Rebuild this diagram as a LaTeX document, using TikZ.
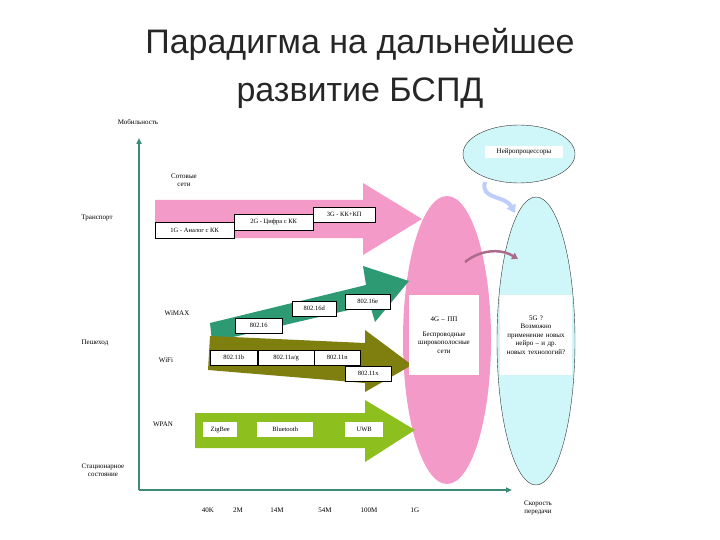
\documentclass[tikz,border=0pt]{standalone}
\usepackage{fontspec}
\setmainfont{Liberation Serif}
\newfontfamily\titlefont{Liberation Sans}
\usetikzlibrary{arrows.meta,shapes.geometric}
\definecolor{pinkc}{HTML}{F49AC8}
\definecolor{tealc}{HTML}{2E9A74}
\definecolor{olivec}{HTML}{7F7F10}
\definecolor{limec}{HTML}{8DBF1E}
\definecolor{cyanc}{HTML}{CFF6F8}
\definecolor{axisc}{HTML}{3E8A78}
\begin{document}
\begin{tikzpicture}[x=1pt,y=-1pt,
 lbl/.style={font=\fontsize{7}{8}\selectfont,align=center,inner sep=1pt},
 tag/.style={draw=black,fill=white,font=\fontsize{6.5}{7}\selectfont,inner sep=1pt,anchor=north west},
 wbox/.style={fill=white,font=\fontsize{7}{8.5}\selectfont,align=center}]
\useasboundingbox (0,0) rectangle (720,540);
\node[font=\titlefont\fontsize{34}{48}\selectfont,align=center,text=black!85] (title) at (360,68) {Парадигма на дальнейшее\\развитие БСПД};
% axes
\coordinate (o) at (139,490);
\coordinate (ytop) at (139,138);
\coordinate (xend) at (512,490);
\draw[axisc,line width=1.5pt,-{Triangle[length=6pt,width=5pt]}] (o) -- (ytop);
\draw[axisc,line width=1.5pt,-{Triangle[length=6pt,width=5pt]}] (o) -- (xend);
\node[lbl] (mob) at (138,122) {Мобильность};
\node[lbl] (tr) at (97,218) {Транспорт};
\node[lbl] (ped) at (95,343) {Пешеход};
\node[lbl] (stat) at (103,470) {Стационарное\\состояние};
\node[lbl] (speed) at (538,508) {Скорость\\передачи};
\foreach \t/\x in {40K/208,2M/238,14M/277,54M/325,100M/369,1G/415}
  \node[lbl] (t\t) at (\x,510) {\t};
% ellipses
\fill[pinkc] (447,340) ellipse [x radius=44,y radius=144];
\draw[black!80,fill=cyanc,thin] (536,341) ellipse [x radius=39,y radius=144];
% pink arrow
\fill[pinkc] (155,200) -- (363,200) -- (363,183) -- (422,219) -- (363,255) -- (363,238) -- (155,238) -- cycle;
\node[lbl] (cell) at (184,180) {Сотовые\\сети};
\node[tag,minimum width=79pt,minimum height=16pt] (g1) at (155,222) {1G - Аналог с КК};
\node[tag,minimum width=79pt,minimum height=16pt] (g2) at (234,214) {2G - Цифра с КК};
\node[tag,minimum width=62pt,minimum height=15pt] (g3) at (313,207) {3G - КК+КП};
% teal arrow
\fill[tealc] (210,323) -- (366,285) -- (363,266) -- (409,281) -- (375,322) -- (370,305) -- (212,342) -- cycle;
% olive arrow
\fill[olivec] (210,336) -- (365,343) -- (365,330) -- (412,365) -- (365,392) -- (365,383) -- (208,370) -- cycle;
\node[tag,minimum width=47pt,minimum height=15pt] (w1) at (235,318) {802.16};
\node[tag,minimum width=44pt,minimum height=15pt] (w2) at (292,301) {802.16d};
\node[tag,minimum width=45pt,minimum height=15pt] (w3) at (345,294) {802.16e};
\node[tag,minimum width=47pt,minimum height=15pt] (f1) at (210,350) {802.11b};
\node[tag,minimum width=56pt,minimum height=15pt] (f2) at (258,350) {802.11a/g};
\node[tag,minimum width=46pt,minimum height=15pt] (f3) at (314,350) {802.11n};
\node[tag,minimum width=46pt,minimum height=15pt] (f4) at (345,366) {802.11x};
\node[lbl] (wimax) at (177,313) {WiMAX};
\node[lbl] (wifi) at (166,360) {WiFi};
% lime arrow
\fill[limec] (195,413) -- (365,413) -- (365,400) -- (415,430) -- (365,462) -- (365,448) -- (195,448) -- cycle;
\node[tag,draw=none,minimum width=34pt,minimum height=15pt] (z1) at (203,422) {ZigBee};
\node[tag,draw=none,minimum width=56pt,minimum height=15pt] (z2) at (257,422) {Bluetooth};
\node[tag,draw=none,minimum width=38pt,minimum height=15pt] (z3) at (345,422) {UWB};
\node[lbl] (wpan) at (163,424) {WPAN};
% text boxes in ellipses
\node[wbox,minimum width=68pt,minimum height=80pt,text width=64pt] (g4) at (444,335) {4G – ПП\\[6pt]Беспроводные широкополосные сети};
\node[wbox,minimum width=72pt,minimum height=80pt,text width=66pt] (g5) at (536,335) {5G ?\\Возможно применение новых нейро – и др. новых технологий?};
% top ellipse
\node[draw=black!80,fill=cyanc,ellipse,minimum width=112pt,minimum height=58pt] (neuro) at (519,154) {};
\node[fill=white,font=\fontsize{7}{8}\selectfont,minimum width=78pt] (neurot) at (524,152) {Нейропроцессоры};
% curved arrows
\coordinate (c1) at (485,182);
\coordinate (c2) at (515,213);
\draw[cyanc!70!blue!60,line width=4pt,-{Triangle[length=8pt,width=10pt]}] (c1) .. controls (480,200) and (505,195) .. (c2);
\coordinate (p1) at (465,262);
\coordinate (p2) at (518,259);
\draw[pinkc!70!black,line width=2.5pt,-{Triangle[length=6pt,width=7pt]}] (p1) .. controls (480,250) and (500,248) .. (p2);
\end{tikzpicture}
\end{document}
